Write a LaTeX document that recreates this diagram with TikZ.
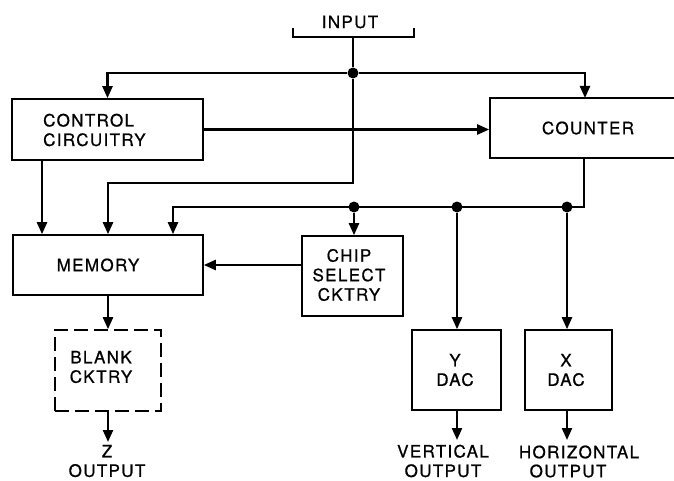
\documentclass[tikz,border=0pt]{standalone}
\usepackage{fontspec}
\setmainfont{TeX Gyre Heros}[LetterSpace=8,FakeBold=0.8]
\usetikzlibrary{arrows.meta}
\begin{document}
\begin{tikzpicture}[x=1pt,y=-1pt,
  box/.style={draw,line width=1.6pt,inner sep=0pt},
  lbl/.style={font=\fontsize{17}{19.5}\selectfont,align=center,inner sep=0pt},
  conn/.style={line width=2.3pt},
  arr/.style={conn,-{Triangle[length=12pt,width=10pt]}},
  dot/.style={circle,fill,inner sep=0pt,minimum size=11pt}]
\useasboundingbox (0,0) rectangle (674,481);
\clip (0,0) rectangle (674,481);
% boxes
\node[box,minimum width=191pt,minimum height=61pt] (ctrl) at (107.5,129.5) {};
\node[lbl,align=left,anchor=west] (ctrlt) at (43,130) {CONTROL\\CIRCUITRY};
\node[box,minimum width=210pt,minimum height=60pt] (cnt) at (595,128) {};
\node[lbl] (cntt) at (588,128) {COUNTER};
\node[box,minimum width=190pt,minimum height=60pt] (mem) at (108,265) {};
\node[lbl] (memt) at (98,265) {MEMORY};
\node[box,minimum width=101pt,minimum height=80pt] (chip) at (352.5,276) {};
\node[lbl] (chipt) at (349,275) {CHIP\\SELECT\\CKTRY};
\node[box,dash pattern=on 14pt off 6pt,minimum width=106pt,minimum height=81pt] (blank) at (108,370.5) {};
\node[lbl] (blankt) at (101,367) {BLANK\\CKTRY};
\node[box,minimum width=89pt,minimum height=80pt] (ydac) at (456.5,370) {};
\node[lbl] (ydact) at (455,370) {Y\\DAC};
\node[box,minimum width=87pt,minimum height=80pt] (xdac) at (568.5,370) {};
\node[lbl] (xdact) at (566,370) {X\\DAC};
% outputs
\node[lbl] (zout) at (107,461) {Z\\OUTPUT};
\node[lbl] (vout) at (443,461) {VERTICAL\\OUTPUT};
\node[lbl] (hout1) at (579,452) {HORIZONTAL};
\node[lbl] (hout2) at (568,471) {OUTPUT};
% input
\node[lbl] (inp) at (350,22) {INPUT};
\coordinate (inb) at (353,37);
\draw[conn] (293,28) -- (293,37) -- (414,37) -- (414,28);
\node[dot] (j0) at (353,73) {};
\coordinate (cntin) at (585,98);
\coordinate (xa) at (42,0);
\coordinate (xc) at (173,0);
\coordinate (ib) at (353,183);
\coordinate (cb) at (584,207);
\node[dot] (d1) at (354,207) {};
\node[dot] (d2) at (457,207) {};
\node[dot] (d3) at (567,207) {};
\coordinate (zarr) at (108,442);
\coordinate (varr) at (457,440);
\coordinate (harr) at (567,440);
% connectors
\draw[conn] (inb) -- (j0);
\draw[arr] (j0) -| (ctrl.north);
\draw[arr] (j0) -| (cntin);
\draw[arr] (ctrl.east) -- (ctrl.east -| cnt.west);
\draw[arr] (ctrl.south -| xa) -- (mem.north -| xa);
\draw[arr] (j0) -- (ib) -| (mem.north);
\draw[arr] (cnt.south -| cb) -- (cb) -| (mem.north -| xc);
\draw[arr] (d1) -- (chip.north -| d1);
\draw[arr] (d2) -- (ydac.north -| d2);
\draw[arr] (d3) -- (xdac.north -| d3);
\draw[arr] (chip.west |- mem.east) -- (mem.east);
\draw[arr] (mem.south) -- (blank.north);
\draw[arr] (blank.south) -- (zarr);
\draw[arr] (ydac.south -| varr) -- (varr);
\draw[arr] (xdac.south -| harr) -- (harr);
\end{tikzpicture}
\end{document}
